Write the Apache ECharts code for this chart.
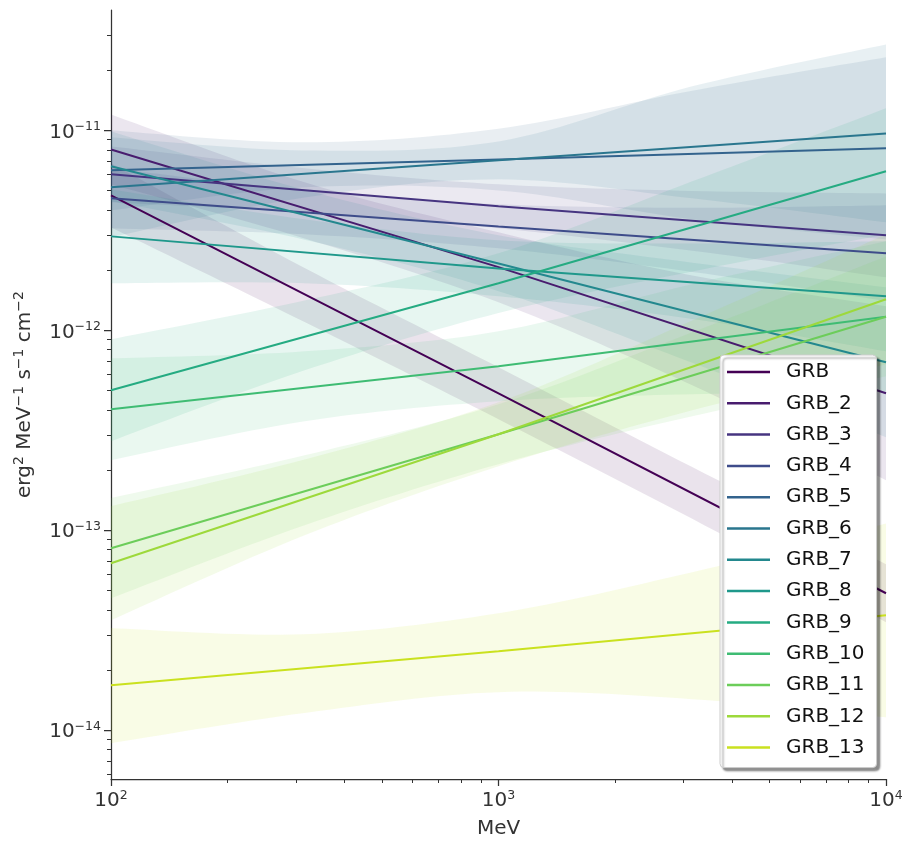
<!DOCTYPE html>
<html>
<head>
<meta charset="utf-8">
<script src="https://cdn.jsdelivr.net/npm/echarts@6/dist/echarts.min.js"></script>
<style>
html,body{margin:0;padding:0;background:#ffffff;}
#chart{width:915px;height:848px;}
</style>
</head>
<body>
<div id="chart"></div>
<script>
// ---------------- data ----------------
const seriesNames = ['GRB','GRB_2','GRB_3','GRB_4','GRB_5','GRB_6','GRB_7','GRB_8','GRB_9','GRB_10','GRB_11','GRB_12','GRB_13'];
const seriesColors = ['#440154','#481c6e','#463480','#3e4c8a','#33638d','#2a768e','#23888e','#1f988b','#25ab82','#3fbc73','#6ccd5a','#9dd93b','#cae11f'];

// energies (MeV) where the model lines are read
const lineEnergies = [100, 1000, 10000];
// energies (MeV) where the confidence bands are read
const bandEnergies = [100, 316, 1000, 3162, 10000];

// E^2 dN/dE model values at lineEnergies, one row per series
const lineValues = [
  [4.73e-12, 4.84e-13, 4.84e-14],  // GRB
  [8.03e-12, 2.07e-12, 4.84e-13],  // GRB_2
  [6.03e-12, 4.17e-12, 2.99e-12],  // GRB_3
  [4.57e-12, 3.31e-12, 2.43e-12],  // GRB_4
  [6.31e-12, 7.16e-12, 8.13e-12],  // GRB_5
  [5.19e-12, 7.08e-12, 9.66e-12],  // GRB_6
  [6.61e-12, 2.16e-12, 6.92e-13],  // GRB_7
  [2.95e-12, 2.04e-12, 1.48e-12],  // GRB_8
  [5.01e-13, 1.72e-12, 6.24e-12],  // GRB_9
  [4.03e-13, 6.61e-13, 1.17e-12],  // GRB_10
  [8.13e-14, 3.02e-13, 1.17e-12],  // GRB_11
  [6.84e-14, 3.02e-13, 1.43e-12],  // GRB_12
  [1.68e-14, 2.48e-14, 3.76e-14]   // GRB_13
];

// lower edge of the band at bandEnergies
const bandLower = [
  [3.27e-12, 1.10e-12, 3.59e-13, 1.14e-13, 3.47e-14],
  [5.37e-12, 2.88e-12, 1.38e-12, 5.31e-13, 1.78e-13],
  [4.37e-12, 3.89e-12, 3.24e-12, 2.50e-12, 1.84e-12],
  [3.24e-12, 3.02e-12, 2.57e-12, 1.96e-12, 1.40e-12],
  [3.98e-12, 5.19e-12, 5.01e-12, 3.59e-12, 2.85e-12],
  [2.92e-12, 4.62e-12, 5.69e-12, 4.57e-12, 3.47e-12],
  [4.42e-12, 2.84e-12, 1.57e-12, 6.88e-13, 2.92e-13],
  [1.72e-12, 1.72e-12, 1.48e-12, 1.14e-12, 7.85e-13],
  [2.79e-13, 6.31e-13, 1.22e-12, 1.97e-12, 3.02e-12],
  [2.24e-13, 3.51e-13, 4.42e-13, 4.79e-13, 4.95e-13],
  [4.57e-14, 1.06e-13, 2.14e-13, 3.72e-13, 5.89e-13],
  [3.55e-14, 9.44e-14, 2.09e-13, 3.98e-13, 6.76e-13],
  [8.61e-15, 1.22e-14, 1.55e-14, 1.43e-14, 1.16e-14]
];

// upper edge of the band at bandEnergies
const bandUpper = [
  [6.84e-12, 2.05e-12, 6.53e-13, 2.07e-13, 6.76e-14],
  [1.20e-11, 5.50e-12, 3.09e-12, 1.88e-12, 1.32e-12],
  [8.32e-12, 6.46e-12, 5.37e-12, 4.98e-12, 4.84e-12],
  [6.46e-12, 5.01e-12, 4.27e-12, 4.10e-12, 4.22e-12],
  [1.00e-11, 8.71e-12, 1.02e-11, 1.58e-11, 2.32e-11],
  [9.23e-12, 7.94e-12, 8.81e-12, 1.66e-11, 2.69e-11],
  [9.89e-12, 5.04e-12, 2.99e-12, 2.18e-12, 1.64e-12],
  [5.07e-12, 3.59e-12, 2.82e-12, 2.72e-12, 2.79e-12],
  [9.02e-13, 1.41e-12, 2.43e-12, 5.56e-12, 1.29e-11],
  [7.24e-13, 7.85e-13, 9.89e-13, 1.70e-12, 2.79e-12],
  [1.45e-13, 2.37e-13, 4.27e-13, 9.77e-13, 2.34e-12],
  [1.32e-13, 2.26e-13, 4.37e-13, 1.12e-12, 3.02e-12],
  [3.24e-14, 3.02e-14, 3.85e-14, 6.17e-14, 1.08e-13]
];

// axis ranges and tick labels
const xRange = [100, 10000];
const yRange = [5.7e-15, 4.0e-11];
const xMajorTicks = [100, 1000, 10000];
const yMajorTicks = [1e-14, 1e-13, 1e-12, 1e-11];
const minorMultipliers = [2, 3, 4, 5, 6, 7, 8, 9];

// ---------------- helpers ----------------
function minorTicks(lo, hi, expFrom, expTo) {
  const out = [];
  for (let e = expFrom; e <= expTo; e++) {
    for (const m of minorMultipliers) {
      const v = Number((m * Math.pow(10, e)).toPrecision(3));
      if (v > lo * 1.0001 && v < hi * 0.9999) out.push(v);
    }
  }
  return out;
}
const xMinorTicks = minorTicks(xRange[0], xRange[1], 2, 3);
const yMinorTicks = minorTicks(yRange[0], yRange[1], -15, -11);

function hexToRgba(hex, a) {
  const r = parseInt(hex.slice(1, 3), 16), g = parseInt(hex.slice(3, 5), 16), b = parseInt(hex.slice(5, 7), 16);
  return 'rgba(' + r + ',' + g + ',' + b + ',' + a + ')';
}
function powLabel(v) {
  const e = Math.round(Math.log10(v));
  return '10{sup|' + (e < 0 ? '\u2212' : '') + Math.abs(e) + '}';
}
// smooth (Catmull-Rom) rendering of a band edge given its pixel points
function smoothEdge(p) {
  const out = [];
  const n = p.length;
  for (let i = 0; i < n - 1; i++) {
    const p0 = p[Math.max(i - 1, 0)], p1 = p[i], p2 = p[i + 1], p3 = p[Math.min(i + 2, n - 1)];
    const c1 = [p1[0] + (p2[0] - p0[0]) / 6, p1[1] + (p2[1] - p0[1]) / 6];
    const c2 = [p2[0] - (p3[0] - p1[0]) / 6, p2[1] - (p3[1] - p1[1]) / 6];
    const steps = 16;
    for (let s = 0; s < steps; s++) {
      const t = s / steps, u = 1 - t;
      out.push([
        u * u * u * p1[0] + 3 * u * u * t * c1[0] + 3 * u * t * t * c2[0] + t * t * t * p2[0],
        u * u * u * p1[1] + 3 * u * u * t * c1[1] + 3 * u * t * t * c2[1] + t * t * t * p2[1]
      ]);
    }
  }
  out.push(p[n - 1]);
  return out;
}

const FONT = 'DejaVu Sans';
const AXIS_COLOR = '#333333';
const TEXT_COLOR = '#333333';
const BAND_ALPHA = 0.11;

function tickLabelStyle(extra) {
  return Object.assign({
    fontFamily: FONT, fontSize: 20, color: TEXT_COLOR, lineHeight: 24,
    rich: { sup: { fontFamily: FONT, fontSize: 12.5, color: TEXT_COLOR, verticalAlign: 'top', lineHeight: 12.5 } }
  }, extra);
}

// ---------------- series ----------------
const series = [];
seriesNames.forEach((name, k) => {
  const color = seriesColors[k];
  const lo = bandLower[k], hi = bandUpper[k];
  series.push({
    type: 'custom',
    name: 'band ' + name,
    xAxisIndex: 0, yAxisIndex: 0,
    clip: true, silent: true, z: 1,
    data: bandEnergies.map((e, i) => [e, lo[i], hi[i]]),
    encode: { x: 0, y: [1, 2] },
    renderItem: function (params, api) {
      if (params.dataIndex !== 0) return null;
      const up = [], dn = [];
      for (let i = 0; i < bandEnergies.length; i++) {
        up.push(api.coord([bandEnergies[i], hi[i]]));
        dn.push(api.coord([bandEnergies[i], lo[i]]));
      }
      const pts = smoothEdge(up).concat(smoothEdge(dn).reverse());
      return { type: 'polygon', shape: { points: pts }, style: { fill: hexToRgba(color, BAND_ALPHA), stroke: null } };
    }
  });
});
seriesNames.forEach((name, k) => {
  series.push({
    type: 'line',
    name: name,
    xAxisIndex: 0, yAxisIndex: 0,
    z: 3,
    symbol: 'none', showSymbol: false,
    clip: true,
    color: seriesColors[k],
    lineStyle: { color: seriesColors[k], width: 2 },
    data: lineEnergies.map((e, i) => [e, lineValues[k][i]])
  });
});

const option = {
  backgroundColor: '#ffffff',
  animation: false,
  grid: { left: 111, right: 29, top: 10, bottom: 69, containLabel: false, outerBoundsMode: 'none' },
  xAxis: [
    {
      type: 'log', logBase: 10, min: xRange[0], max: xRange[1],
      name: 'MeV', nameLocation: 'middle', nameGap: 40,
      nameTextStyle: { fontFamily: FONT, fontSize: 20, color: TEXT_COLOR },
      axisLine: { show: true, onZero: false, lineStyle: { color: AXIS_COLOR, width: 1.25 } },
      axisTick: { show: true, inside: false, length: 7, customValues: xMajorTicks, lineStyle: { color: AXIS_COLOR, width: 1.25 } },
      axisLabel: tickLabelStyle({ show: true, margin: 10, customValues: xMajorTicks, formatter: powLabel, showMinLabel: true, showMaxLabel: true }),
      splitLine: { show: false }, minorTick: { show: false }, minorSplitLine: { show: false }
    },
    {
      type: 'log', logBase: 10, min: xRange[0], max: xRange[1], position: 'bottom',
      axisLine: { show: false },
      axisTick: { show: true, inside: false, length: 4, customValues: xMinorTicks, lineStyle: { color: AXIS_COLOR, width: 1 } },
      axisLabel: { show: false },
      splitLine: { show: false }
    }
  ],
  yAxis: [
    {
      type: 'log', logBase: 10, min: yRange[0], max: yRange[1],
      name: 'erg{sup|2} MeV{sup|\u22121} s{sup|\u22121} cm{sup|\u22122}',
      nameLocation: 'middle', nameGap: 72, nameRotate: 90,
      nameTextStyle: {
        fontFamily: FONT, fontSize: 20, color: TEXT_COLOR, lineHeight: 26,
        rich: { sup: { fontFamily: FONT, fontSize: 14, color: TEXT_COLOR, verticalAlign: 'top', lineHeight: 14 } }
      },
      axisLine: { show: true, onZero: false, lineStyle: { color: AXIS_COLOR, width: 1.25 } },
      axisTick: { show: true, inside: false, length: 7, customValues: yMajorTicks, lineStyle: { color: AXIS_COLOR, width: 1.25 } },
      axisLabel: tickLabelStyle({ show: true, margin: 10, customValues: yMajorTicks, formatter: powLabel, padding: [4, 0, 0, 0] }),
      splitLine: { show: false }, minorTick: { show: false }, minorSplitLine: { show: false }
    },
    {
      type: 'log', logBase: 10, min: yRange[0], max: yRange[1], position: 'left',
      axisLine: { show: false },
      axisTick: { show: true, inside: false, length: 4, customValues: yMinorTicks, lineStyle: { color: AXIS_COLOR, width: 1 } },
      axisLabel: { show: false },
      splitLine: { show: false }
    }
  ],
  legend: {
    data: seriesNames,
    orient: 'vertical',
    left: 720, top: 355,
    padding: [7, 12, 10, 7],
    icon: 'rect',
    itemWidth: 43, itemHeight: 2.5, itemGap: 11.3,
    backgroundColor: '#ffffff',
    borderColor: '#cccccc', borderWidth: 1, borderRadius: 4,
    shadowColor: 'rgba(0,0,0,0.45)', shadowBlur: 2, shadowOffsetX: 3, shadowOffsetY: 3,
    textStyle: { fontFamily: FONT, fontSize: 20, color: '#111111', lineHeight: 20, padding: [0, 0, 0, 11] },
    selectedMode: false
  },
  series: series
};

const chart = echarts.init(document.getElementById('chart'), null, { renderer: 'canvas' });
chart.setOption(option);
</script>
</body>
</html>
